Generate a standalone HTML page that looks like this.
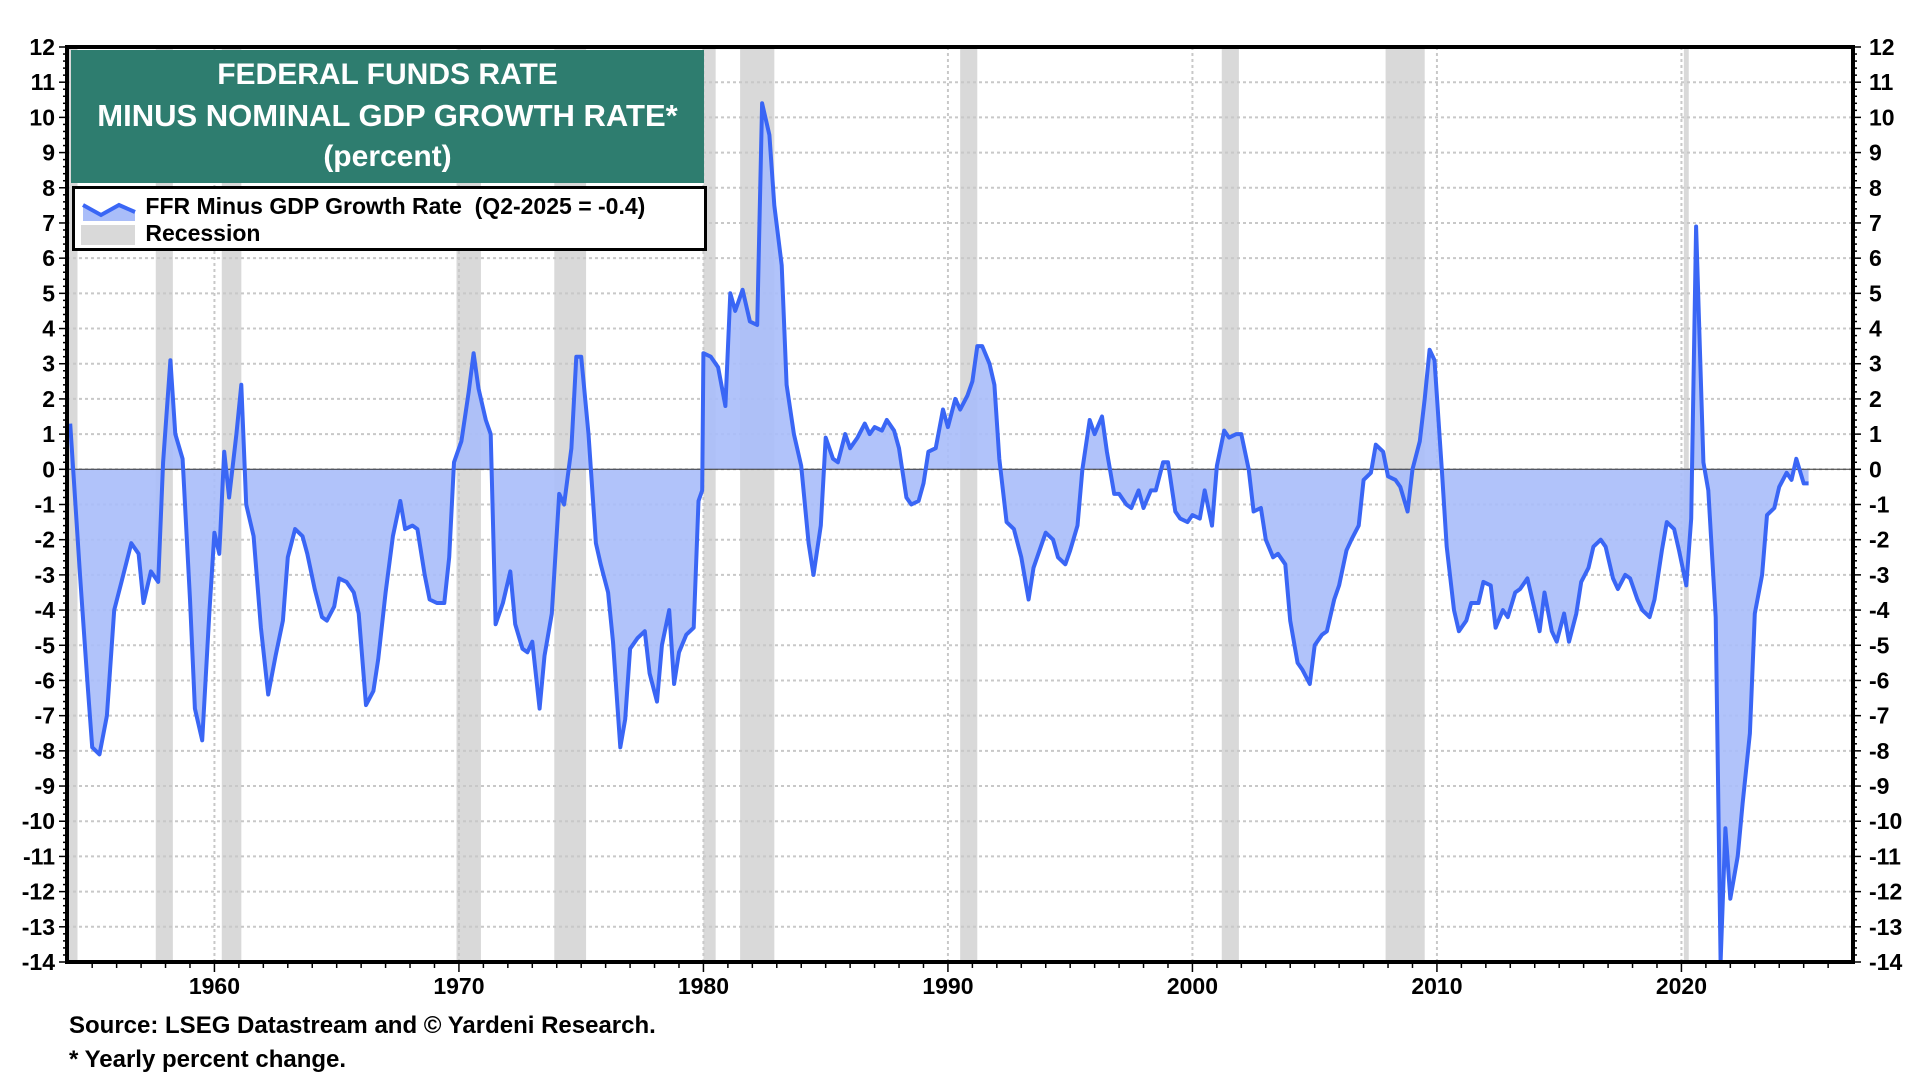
<!DOCTYPE html>
<html><head><meta charset="utf-8">
<style>
html,body{margin:0;padding:0;background:#fff;}
body{width:1920px;height:1080px;overflow:hidden;font-family:"Liberation Sans",Arial,sans-serif;}
svg text{font-family:"Liberation Sans",Arial,sans-serif;font-weight:bold;}
</style></head>
<body>
<svg id="chart" width="1920" height="1080" xmlns="http://www.w3.org/2000/svg"></svg>
<script>
const series = [
[1954.1,1.3],[1954.5,-3],[1954.8,-6],[1955.0,-7.9],[1955.3,-8.1],[1955.6,-7],[1955.9,-4],[1956.2,-3.2],[1956.6,-2.1],[1956.9,-2.4],
[1957.1,-3.8],[1957.4,-2.9],[1957.7,-3.2],[1957.9,0.2],[1958.2,3.1],[1958.4,1],[1958.7,0.3],[1959.0,-3.7],[1959.2,-6.8],[1959.5,-7.7],
[1959.8,-4],[1960.0,-1.8],[1960.2,-2.4],[1960.4,0.5],[1960.6,-0.8],[1960.9,1],[1961.1,2.4],[1961.3,-1],[1961.6,-1.9],[1961.9,-4.5],
[1962.2,-6.4],[1962.5,-5.3],[1962.8,-4.3],[1963.0,-2.5],[1963.3,-1.7],[1963.6,-1.9],[1963.8,-2.4],[1964.1,-3.4],[1964.4,-4.2],[1964.6,-4.3],
[1964.9,-3.9],[1965.1,-3.1],[1965.4,-3.2],[1965.7,-3.5],[1965.9,-4.1],[1966.2,-6.7],[1966.5,-6.3],[1966.7,-5.4],[1967.0,-3.5],[1967.3,-1.9],
[1967.6,-0.9],[1967.8,-1.7],[1968.1,-1.6],[1968.3,-1.7],[1968.6,-3],[1968.8,-3.7],[1969.1,-3.8],[1969.4,-3.8],[1969.6,-2.5],[1969.8,0.2],
[1970.1,0.8],[1970.4,2.2],[1970.6,3.3],[1970.8,2.3],[1971.1,1.4],[1971.3,1],[1971.5,-4.4],[1971.8,-3.8],[1972.1,-2.9],[1972.3,-4.4],
[1972.6,-5.1],[1972.8,-5.2],[1973.0,-4.9],[1973.3,-6.8],[1973.5,-5.3],[1973.8,-4.1],[1974.1,-0.7],[1974.3,-1],[1974.6,0.6],[1974.8,3.2],
[1975.0,3.2],[1975.3,1],[1975.6,-2.1],[1975.8,-2.7],[1976.1,-3.5],[1976.3,-4.9],[1976.6,-7.9],[1976.8,-7.1],[1977.0,-5.1],[1977.3,-4.8],
[1977.6,-4.6],[1977.8,-5.8],[1978.1,-6.6],[1978.3,-5],[1978.6,-4],[1978.8,-6.1],[1979.0,-5.2],[1979.3,-4.7],[1979.6,-4.5],[1979.8,-0.9],
[1979.95,-0.6],[1980.0,3.3],[1980.3,3.2],[1980.6,2.9],[1980.9,1.8],[1981.1,5],[1981.3,4.5],[1981.6,5.1],[1981.9,4.2],[1982.2,4.1],
[1982.4,10.4],[1982.7,9.5],[1982.9,7.5],[1983.2,5.8],[1983.4,2.4],[1983.7,1],[1984.0,0.1],[1984.3,-2.1],[1984.5,-3],[1984.8,-1.6],
[1985.0,0.9],[1985.3,0.3],[1985.5,0.2],[1985.8,1],[1986.0,0.6],[1986.3,0.9],[1986.6,1.3],[1986.8,1],[1987.0,1.2],[1987.3,1.1],
[1987.5,1.4],[1987.8,1.1],[1988.0,0.6],[1988.3,-0.8],[1988.5,-1],[1988.8,-0.9],[1989.0,-0.4],[1989.2,0.5],[1989.5,0.6],[1989.8,1.7],
[1990.0,1.2],[1990.3,2],[1990.5,1.7],[1990.8,2.1],[1991.0,2.5],[1991.2,3.5],[1991.4,3.5],[1991.7,3],[1991.9,2.4],[1992.1,0.3],
[1992.4,-1.5],[1992.7,-1.7],[1993.0,-2.5],[1993.3,-3.7],[1993.5,-2.8],[1993.8,-2.2],[1994.0,-1.8],[1994.3,-2],[1994.5,-2.5],[1994.8,-2.7],
[1995.0,-2.3],[1995.3,-1.6],[1995.5,0],[1995.8,1.4],[1996.0,1],[1996.3,1.5],[1996.5,0.5],[1996.8,-0.7],[1997.0,-0.7],[1997.3,-1],
[1997.5,-1.1],[1997.8,-0.6],[1998.0,-1.1],[1998.3,-0.6],[1998.5,-0.6],[1998.8,0.2],[1999.0,0.2],[1999.3,-1.2],[1999.5,-1.4],[1999.8,-1.5],
[2000.0,-1.3],[2000.3,-1.4],[2000.5,-0.6],[2000.8,-1.6],[2001.0,0.1],[2001.3,1.1],[2001.5,0.9],[2001.8,1],[2002.0,1],[2002.3,0],
[2002.5,-1.2],[2002.8,-1.1],[2003.0,-2],[2003.3,-2.5],[2003.5,-2.4],[2003.8,-2.7],[2004.0,-4.3],[2004.3,-5.5],[2004.5,-5.7],[2004.8,-6.1],
[2005.0,-5],[2005.3,-4.7],[2005.5,-4.6],[2005.8,-3.7],[2006.0,-3.3],[2006.3,-2.3],[2006.5,-2],[2006.8,-1.6],[2007.0,-0.3],[2007.3,-0.1],
[2007.5,0.7],[2007.8,0.5],[2008.0,-0.2],[2008.3,-0.3],[2008.5,-0.5],[2008.8,-1.2],[2009.0,0],[2009.3,0.8],[2009.5,2],[2009.7,3.4],
[2009.9,3.1],[2010.2,0],[2010.4,-2.2],[2010.7,-4],[2010.9,-4.6],[2011.2,-4.3],[2011.4,-3.8],[2011.7,-3.8],[2011.9,-3.2],[2012.2,-3.3],
[2012.4,-4.5],[2012.7,-4],[2012.9,-4.2],[2013.2,-3.5],[2013.4,-3.4],[2013.7,-3.1],[2013.9,-3.7],[2014.2,-4.6],[2014.4,-3.5],[2014.7,-4.6],
[2014.9,-4.9],[2015.2,-4.1],[2015.4,-4.9],[2015.7,-4.1],[2015.9,-3.2],[2016.2,-2.8],[2016.4,-2.2],[2016.7,-2],[2016.9,-2.2],[2017.2,-3.1],
[2017.4,-3.4],[2017.7,-3],[2017.9,-3.1],[2018.2,-3.7],[2018.4,-4],[2018.7,-4.2],[2018.9,-3.7],[2019.2,-2.3],[2019.4,-1.5],[2019.7,-1.7],
[2019.9,-2.3],[2020.2,-3.3],[2020.4,-1.4],[2020.6,6.9],[2020.9,0.2],[2021.1,-0.6],[2021.4,-4.2],[2021.6,-14],[2021.8,-10.2],[2022.0,-12.2],
[2022.3,-11],[2022.5,-9.5],[2022.8,-7.5],[2023.0,-4.1],[2023.3,-3],[2023.5,-1.3],[2023.8,-1.1],[2024.0,-0.5],[2024.3,-0.1],[2024.5,-0.3],
[2024.7,0.3],[2025.0,-0.4],[2025.2,-0.4]
];
const recessions = [[1953.6,1954.4],[1957.6,1958.3],[1960.3,1961.1],[1969.9,1970.9],[1973.9,1975.2],[1980.0,1980.5],[1981.5,1982.9],[1990.5,1991.2],[2001.2,2001.9],[2007.9,2009.5],[2020.1,2020.3]];
const yTicks = [12,11,10,9,8,7,6,5,4,3,2,1,0,-1,-2,-3,-4,-5,-6,-7,-8,-9,-10,-11,-12,-13,-14];
const xTickLabels = [1960,1970,1980,1990,2000,2010,2020];

const L=67,R=1853,T=47,B=962;
const X0=1953.97, X1=X0+(R-L)/24.45;
function x(yr){return L+(yr-X0)*(R-L)/(X1-X0);}
function y(v){return T+(12-v)*(B-T)/26;}
const svg=document.getElementById('chart');
const NS='http://www.w3.org/2000/svg';
function el(tag,attrs,parent){const e=document.createElementNS(NS,tag);for(const k in attrs)e.setAttribute(k,attrs[k]);(parent||svg).appendChild(e);return e;}

recessions.forEach(r=>{
  const a=Math.max(x(r[0]),L),b=x(r[1]);
  const e=el('rect',{x:a,y:T,width:b-a,height:B-T,fill:'#d9d9d9'});
  
  
});
yTicks.forEach(v=>{
  if(v===12||v===-14)return;
  const g=el('line',{x1:L,x2:R,y1:y(v),y2:y(v),stroke:'#c8c8c8','stroke-width':2,'stroke-dasharray':'3,3'});
  
  
});
xTickLabels.forEach(yr=>{
  const g=el('line',{x1:x(yr),x2:x(yr),y1:T,y2:B,stroke:'#c8c8c8','stroke-width':2,'stroke-dasharray':'3,3'});
  
  
});
let d='M'+x(series[0][0])+','+y(0);
series.forEach(p=>{d+=' L'+x(p[0]).toFixed(1)+','+y(Math.max(p[1],-14)).toFixed(1);});
d+=' L'+x(series[series.length-1][0])+','+y(0)+' Z';
const area=el('path',{d:d,fill:'#a9bdf9','fill-opacity':'0.9'});


const zl=el('line',{x1:L,x2:R,y1:y(0),y2:y(0),stroke:'#333','stroke-width':1});


const ld=series.map((p,i)=>(i?'L':'M')+x(p[0]).toFixed(1)+','+y(Math.max(p[1],-14)).toFixed(1)).join(' ');
const line=el('path',{d:ld,fill:'none',stroke:'#3a66f5','stroke-width':4,'stroke-linejoin':'round'});


const fr=el('rect',{x:L,y:T,width:R-L,height:B-T,fill:'none',stroke:'#000','stroke-width':4});


for(let v=-14;v<=12;v+=0.2){
  const major=Math.abs(v-Math.round(v))<0.01;
  const len=major?8:4;
  el('line',{x1:L-len,x2:L,y1:y(v),y2:y(v),stroke:'#000','stroke-width':1.5});
  el('line',{x1:R,x2:R+len,y1:y(v),y2:y(v),stroke:'#000','stroke-width':1.5});
}
yTicks.forEach(v=>{
  const t1=el('text',{x:L-12,y:y(v)+8,'text-anchor':'end','font-size':23,fill:'#000'});t1.textContent=v;
  
  
  const t2=el('text',{x:R+16,y:y(v)+8,'text-anchor':'start','font-size':23,fill:'#000'});t2.textContent=v;
  
  
});
for(let yr=1955;yr<=2026;yr++){
  const major=yr%10===0;
  el('line',{x1:x(yr),x2:x(yr),y1:B,y2:B+(major?10:6),stroke:'#000','stroke-width':1.5});
}
xTickLabels.forEach(yr=>{
  const t=el('text',{x:x(yr),y:B+32,'text-anchor':'middle','font-size':23,fill:'#000'});t.textContent=yr;
  
  
});
</script>
<div style="position:absolute;left:71px;top:50px;width:633px;height:133px;background:#2e7d6f;color:#fff;font-weight:bold;font-size:30px;text-align:center;line-height:41px;padding-top:4px;box-sizing:border-box;">
<div>FEDERAL FUNDS RATE</div>
<div style="font-size:31px;">MINUS NOMINAL GDP GROWTH RATE*</div>
<div>(percent)</div>
</div>
<div style="position:absolute;left:72px;top:186px;width:635px;height:65px;background:#fff;border:3px solid #000;box-sizing:border-box;font-weight:bold;font-size:23px;">
<div style="position:absolute;left:6px;top:4px;height:26px;line-height:26px;white-space:nowrap;">
<svg width="56" height="26" style="vertical-align:middle"><path d="M2,10 L20,20 L38,10 L54,17 L54,26 L2,26 Z" fill="#a9bdf9"/><path d="M2,10 L20,20 L38,10 L54,17" fill="none" stroke="#3a66f5" stroke-width="4"/></svg>
<span style="margin-left:2px;">FFR Minus GDP Growth Rate&nbsp;&nbsp;(Q2-2025 = -0.4)</span></div>
<div style="position:absolute;left:6px;top:31px;height:26px;line-height:26px;">
<span style="display:inline-block;width:54px;height:20px;background:#d9d9d9;vertical-align:middle;"></span>
<span style="margin-left:4px;">Recession</span></div>
</div>
<div style="position:absolute;left:69px;top:1012px;font-weight:bold;font-size:24px;">Source: LSEG Datastream and © Yardeni Research.</div>
<div style="position:absolute;left:69px;top:1046px;font-weight:bold;font-size:24px;">* Yearly percent change.</div>
</body></html>
